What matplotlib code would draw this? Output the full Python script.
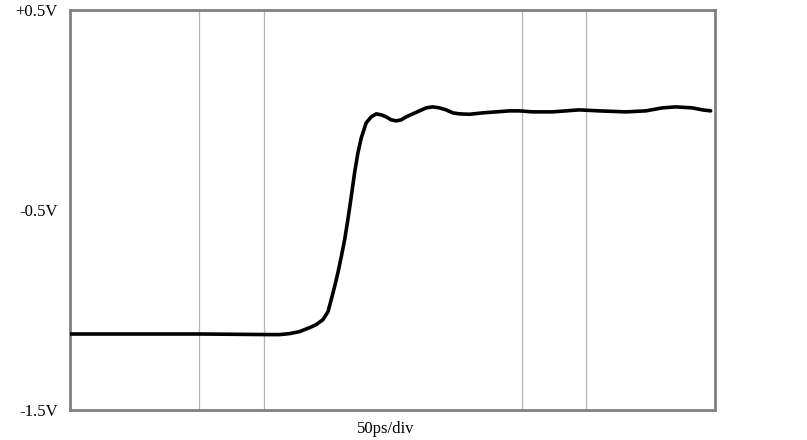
import matplotlib
matplotlib.use("Agg")
import matplotlib.pyplot as plt

# time in ps (50 ps/div, 10 divisions), voltage in V
time_ps = [0, 100, 154.8, 162.5, 170.3, 178.0, 185.8, 190.9, 196.1, 200.0, 202.5,
           205.1, 207.7, 210.3, 212.9, 215.4, 218.0, 220.6, 223.2, 225.8, 229.6,
           233.5, 237.4, 241.3, 245.1, 249.0, 252.9, 256.7, 260.6, 265.7, 270.9,
           276.1, 281.2, 286.4, 291.6, 296.7, 301.9, 309.6, 319.9, 330.2, 340.6,
           348.3, 358.6, 374.0, 384.4, 394.7, 410.2, 430.8, 446.3, 459.2, 469.5,
           482.4, 490.2, 496.6]
volts = [-1.122, -1.122, -1.125, -1.125, -1.12, -1.11, -1.09, -1.075, -1.05, -1.01,
         -0.95, -0.885, -0.815, -0.735, -0.65, -0.55, -0.435, -0.315, -0.215, -0.14,
         -0.065, -0.035, -0.02, -0.025, -0.035, -0.05, -0.055, -0.05, -0.035, -0.02,
         -0.005, 0.01, 0.015, 0.01, 0.0, -0.015, -0.02, -0.022, -0.015, -0.01,
         -0.005, -0.005, -0.01, -0.01, -0.005, 0.0, -0.005, -0.01, -0.005, 0.01,
         0.015, 0.01, 0.0, -0.005]

grid_divs = [2, 3, 7, 8]
ytick_vals = [0.5, -0.5, -1.5]
ytick_labels = ["+0.5V", "-0.5V", "-1.5V"]
xlabel = "50ps/div"

fig = plt.figure(figsize=(8.07, 4.40), dpi=100)
ax = fig.add_axes([70/807, 1 - 409.5/440, (715-70)/807, (409.5-10)/440])

for d in grid_divs:
    ax.axvline(d * 50, color="#b4b4b4", lw=0.9, zorder=1)

ax.plot(time_ps, volts, color="black", lw=2.6, solid_capstyle="round",
        solid_joinstyle="round", zorder=3)

ax.set_xlim(0, 500)
ax.set_ylim(-1.5, 0.5)
ax.set_xticks([])
ax.set_yticks(ytick_vals)
ax.set_yticklabels(ytick_labels, fontfamily="Liberation Serif", fontsize=12)
ax.tick_params(axis="y", length=0, pad=9)
for s in ax.spines.values():
    s.set_color("#808080")
    s.set_linewidth(2)

ax.text(0.49, -0.03, xlabel, transform=ax.transAxes, ha="center", va="top",
        fontfamily="Liberation Serif", fontsize=12)

fig.savefig("out.png", dpi=100)
